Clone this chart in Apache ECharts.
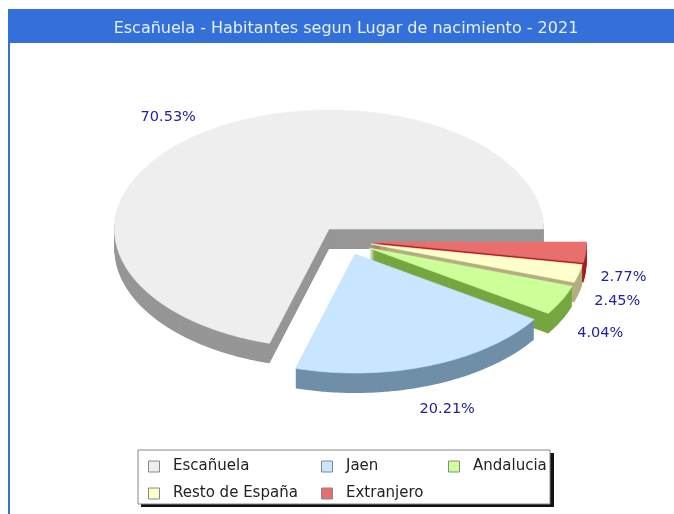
<!DOCTYPE html>
<html><head><meta charset="utf-8">
<style>html,body{margin:0;padding:0;background:#fff}#c{width:674px;height:514px}</style>
<script src="https://cdn.jsdelivr.net/npm/echarts@6/dist/echarts.min.js"></script>
</head><body><div id="c"></div>
<script>
const titleText = 'Escañuela - Habitantes segun Lugar de nacimiento - 2021';
const categories = ['Escañuela', 'Jaen', 'Andalucia', 'Resto de España', 'Extranjero'];
const values = [70.53, 20.21, 4.04, 2.45, 2.77];
const topColors = ['#eeeeee', '#c8e6ff', '#ccff99', '#ffffcc', '#e96f6f'];
const sideColors = ['#969696', '#6f8fa8', '#76a640', '#b5ae80', '#a81e1e'];

// layout of the tilted pie
const RX = 214.5, RY = 119, DEPTH = 20;
const apexX = [329, 355, 369, 371, 372];
const apexY = [229, 254, 248, 244, 242];
const labelDX = [-6, 3, 0, -3, -5];
const labelDY = [2, 1, 2, 2, 3];
const drawOrder = [0, 4, 3, 2, 1];
const total = values.reduce((a, b) => a + b, 0);

function sliceAngles(i) {
  let s = 0;
  for (let k = 0; k < i; k++) s += values[k];
  return [s / total * 2 * Math.PI, (s + values[i]) / total * 2 * Math.PI];
}
function outline(i, dy) {
  const [a0, a1] = sliceAngles(i);
  const pts = [[apexX[i], apexY[i] + dy]];
  const n = Math.max(4, Math.ceil((a1 - a0) / 0.01));
  for (let k = 0; k <= n; k++) {
    const a = a0 + (a1 - a0) * k / n;
    pts.push([apexX[i] + RX * Math.cos(a), apexY[i] + dy - RY * Math.sin(a)]);
  }
  return pts;
}
function makeRender(i) {
  return function () {
    const kids = [];
    for (let d = DEPTH; d >= 1; d--) {
      kids.push({ type: 'polygon', shape: { points: outline(i, d) }, style: { fill: sideColors[i] } });
    }
    kids.push({ type: 'polygon', shape: { points: outline(i, 0) }, style: { fill: topColors[i], stroke: topColors[i], lineWidth: 0.6 } });
    const [a0, a1] = sliceAngles(i);
    const m = (a0 + a1) / 2, sn = Math.sin(m);
    kids.push({
      type: 'text',
      z2: 100,
      style: {
        text: values[i].toFixed(2) + '%',
        x: apexX[i] + 1.2 * RX * Math.cos(m) + labelDX[i],
        y: apexY[i] - 1.2 * RY * sn + (sn < 0 ? DEPTH : 0) + labelDY[i],
        align: 'center', verticalAlign: 'middle',
        font: '14.5px "DejaVu Sans"', fill: '#22229a'
      }
    });
    return { type: 'group', children: kids };
  };
}
const legendBase = {
  orient: 'vertical', top: 454, itemGap: 12, itemWidth: 28, itemHeight: 11,
  icon: 'path://M0 0H10V10H0Z', selectedMode: false,
  textStyle: { fontFamily: 'DejaVu Sans', fontSize: 15, color: '#222' }
};
const legendItem = i => ({ name: categories[i], itemStyle: { color: topColors[i], borderColor: '#888', borderWidth: 1 } });

const chart = echarts.init(document.getElementById('c'), null, { renderer: 'canvas' });
chart.setOption({
  animation: false,
  title: {
    text: titleText, left: 341, top: 16, textAlign: 'center',
    textStyle: { color: '#e8eefb', fontSize: 16, fontWeight: 'normal', fontFamily: 'DejaVu Sans' }
  },
  legend: [
    Object.assign({}, legendBase, { left: 143, data: [legendItem(0), legendItem(3)] }),
    Object.assign({}, legendBase, { left: 316, data: [legendItem(1), legendItem(4)] }),
    Object.assign({}, legendBase, { left: 443, data: [legendItem(2)] })
  ],
  graphic: [
    { type: 'rect', z: -10, shape: { x: 8, y: 9, width: 666, height: 34 }, style: { fill: '#3370d9' } },
    { type: 'rect', z: -10, shape: { x: 8, y: 9, width: 2, height: 505 }, style: { fill: '#3370d9' } },
    { type: 'rect', z: -10, shape: { x: 141, y: 453, width: 413, height: 54 }, style: { fill: '#111' } },
    { type: 'rect', z: -9, shape: { x: 138, y: 450, width: 412, height: 54 }, style: { fill: '#fff', stroke: '#888', lineWidth: 1 } }
  ],
  series: drawOrder.map(i => ({
    type: 'custom', name: categories[i], coordinateSystem: 'none',
    data: [values[i]], itemStyle: { color: topColors[i] },
    renderItem: makeRender(i), silent: true
  }))
});
</script></body></html>
